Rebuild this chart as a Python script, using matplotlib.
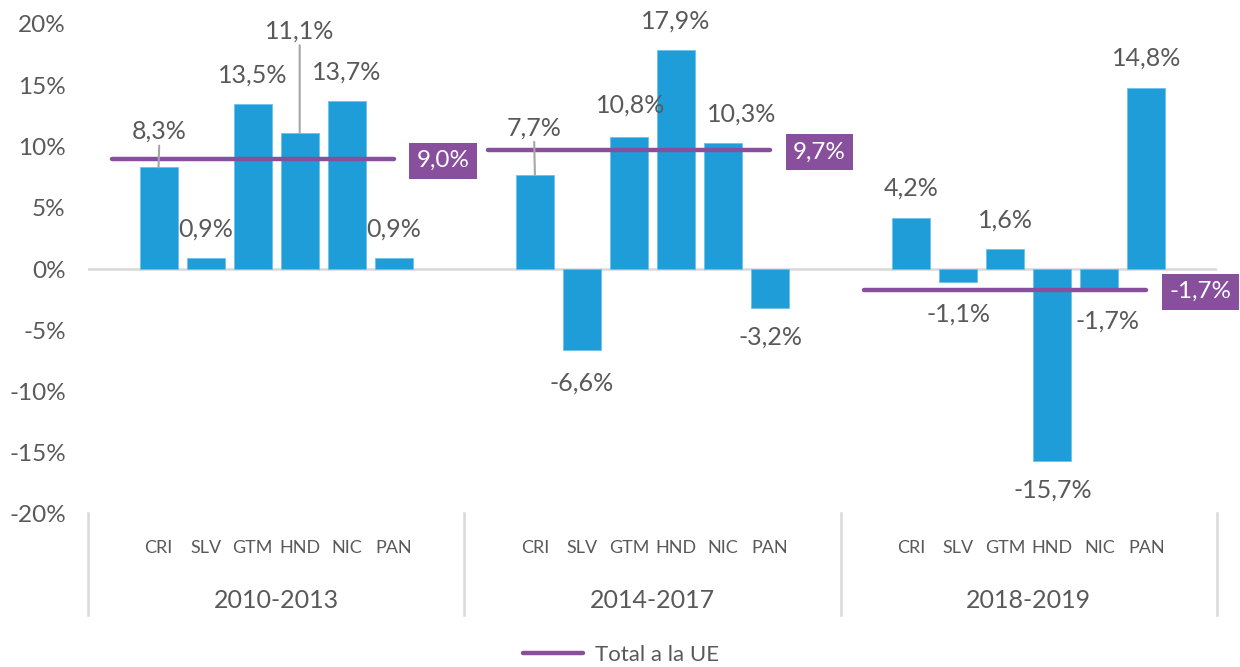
import matplotlib
matplotlib.use('Agg')
import matplotlib.pyplot as plt
from matplotlib.transforms import blended_transform_factory
from matplotlib.lines import Line2D

# ---------------- data ----------------
periods = ['2010-2013', '2014-2017', '2018-2019']
countries = ['CRI', 'SLV', 'GTM', 'HND', 'NIC', 'PAN']
growth_2010_2013 = [8.3, 0.9, 13.5, 11.1, 13.7, 0.9]
growth_2014_2017 = [7.7, -6.6, 10.8, 17.9, 10.3, -3.2]
growth_2018_2019 = [4.2, -1.1, 1.6, -15.7, -1.7, 14.8]
total_ue = [9.0, 9.7, -1.7]
yticks = [-20, -15, -10, -5, 0, 5, 10, 15, 20]

series = [growth_2010_2013, growth_2014_2017, growth_2018_2019]

# ---------------- style ----------------
FONT = 'Lato'
plt.rcParams['font.family'] = [FONT, 'DejaVu Sans']
TXT = '#595959'
BAR = '#1F9DD9'
PURPLE = '#874F9C'
GRID = '#D9D9D9'
SLOTS = 8  # per group: one blank slot, six countries, one blank

def fmt(v):
    return f"{v:.1f}".replace('.', ',') + '%'

fig = plt.figure(figsize=(12.4, 6.67), dpi=100)
ax = fig.add_axes([88 / 1240, 153 / 667, 1129 / 1240, 490 / 667])
ax.set_xlim(-0.5, 3 * SLOTS - 0.5)
ax.set_ylim(-20, 20)

for s in ax.spines.values():
    s.set_visible(False)
ax.set_xticks([])
ax.set_yticks(yticks)
ax.set_yticklabels([f"{t}%" for t in yticks], fontsize=17.5, color=TXT)
ax.tick_params(axis='y', length=0, pad=16)

# zero line
ax.axhline(0, color=GRID, lw=1.8, zorder=1)

# label offsets (pixels) for special labels: (dx, dy, leader)
special = {
    (0, 0): (1, 36, True),
    (0, 3): (0, 102, True),
    (1, 0): (-1, 47, True),
    (1, 1): (0, -33, False),
    (1, 2): (2, 32, False),
    (1, 4): (19, 29, False),
    (2, 1): (0, -32, False),
    (2, 4): (8, -31, False),
    (2, 5): (0, 30, False),
}

trans_x_fig = blended_transform_factory(ax.transData, fig.transFigure)

for g, vals in enumerate(series):
    xs = [g * SLOTS + 1 + i for i in range(len(countries))]
    ax.bar(xs, vals, width=0.81, color=BAR, edgecolor='#6CC2EA', linewidth=0.6, zorder=2)
    # line for total
    lx = [g * SLOTS, g * SLOTS + len(countries)]
    ax.plot(lx, [total_ue[g]] * 2, color=PURPLE, lw=3.2, solid_capstyle='round', zorder=3,
            label='Total a la UE' if g == 0 else None)
    ax.annotate(fmt(total_ue[g]), xy=(lx[1], total_ue[g]), xytext=(23, -2),
                textcoords='offset pixels', ha='left', va='center', fontsize=17.5,
                color='white', zorder=5,
                bbox=dict(boxstyle='square,pad=0.3', fc=PURPLE, ec='none'))
    # data labels
    for i, (x, v) in enumerate(zip(xs, vals)):
        dx, dy, leader = special.get((g, i), (0, 29 if v >= 0 else -29, False))
        kw = {}
        if leader:
            kw['arrowprops'] = dict(arrowstyle='-', color='#A6A6A6', lw=1.5,
                                    shrinkA=0, shrinkB=0)
        ax.annotate(fmt(v), xy=(x, v), xytext=(dx, dy), textcoords='offset pixels',
                    ha='center', va='center', fontsize=18, color=TXT, zorder=4, **kw)
        # category label
        ax.text(x, 1 - 548 / 667, countries[i], transform=trans_x_fig, ha='center',
                va='center', fontsize=13, color=TXT)
    # group label
    ax.text(g * SLOTS + 3.5, 1 - 601 / 667, periods[g], transform=trans_x_fig,
            ha='center', va='center', fontsize=18, color=TXT)

# group separators
for k in range(4):
    xb = k * SLOTS - 0.5
    ax.add_line(Line2D([xb, xb], [1 - 513 / 667, 1 - 615 / 667], transform=trans_x_fig,
                       color=GRID, lw=1.8, clip_on=False))

# legend
leg = fig.legend(loc='center', bbox_to_anchor=(621 / 1240, 1 - 655 / 667), frameon=False,
                 fontsize=16, handlelength=2.7, handletextpad=0.55)
for t in leg.get_texts():
    t.set_color(TXT)

fig.savefig('out.png', dpi=100)
